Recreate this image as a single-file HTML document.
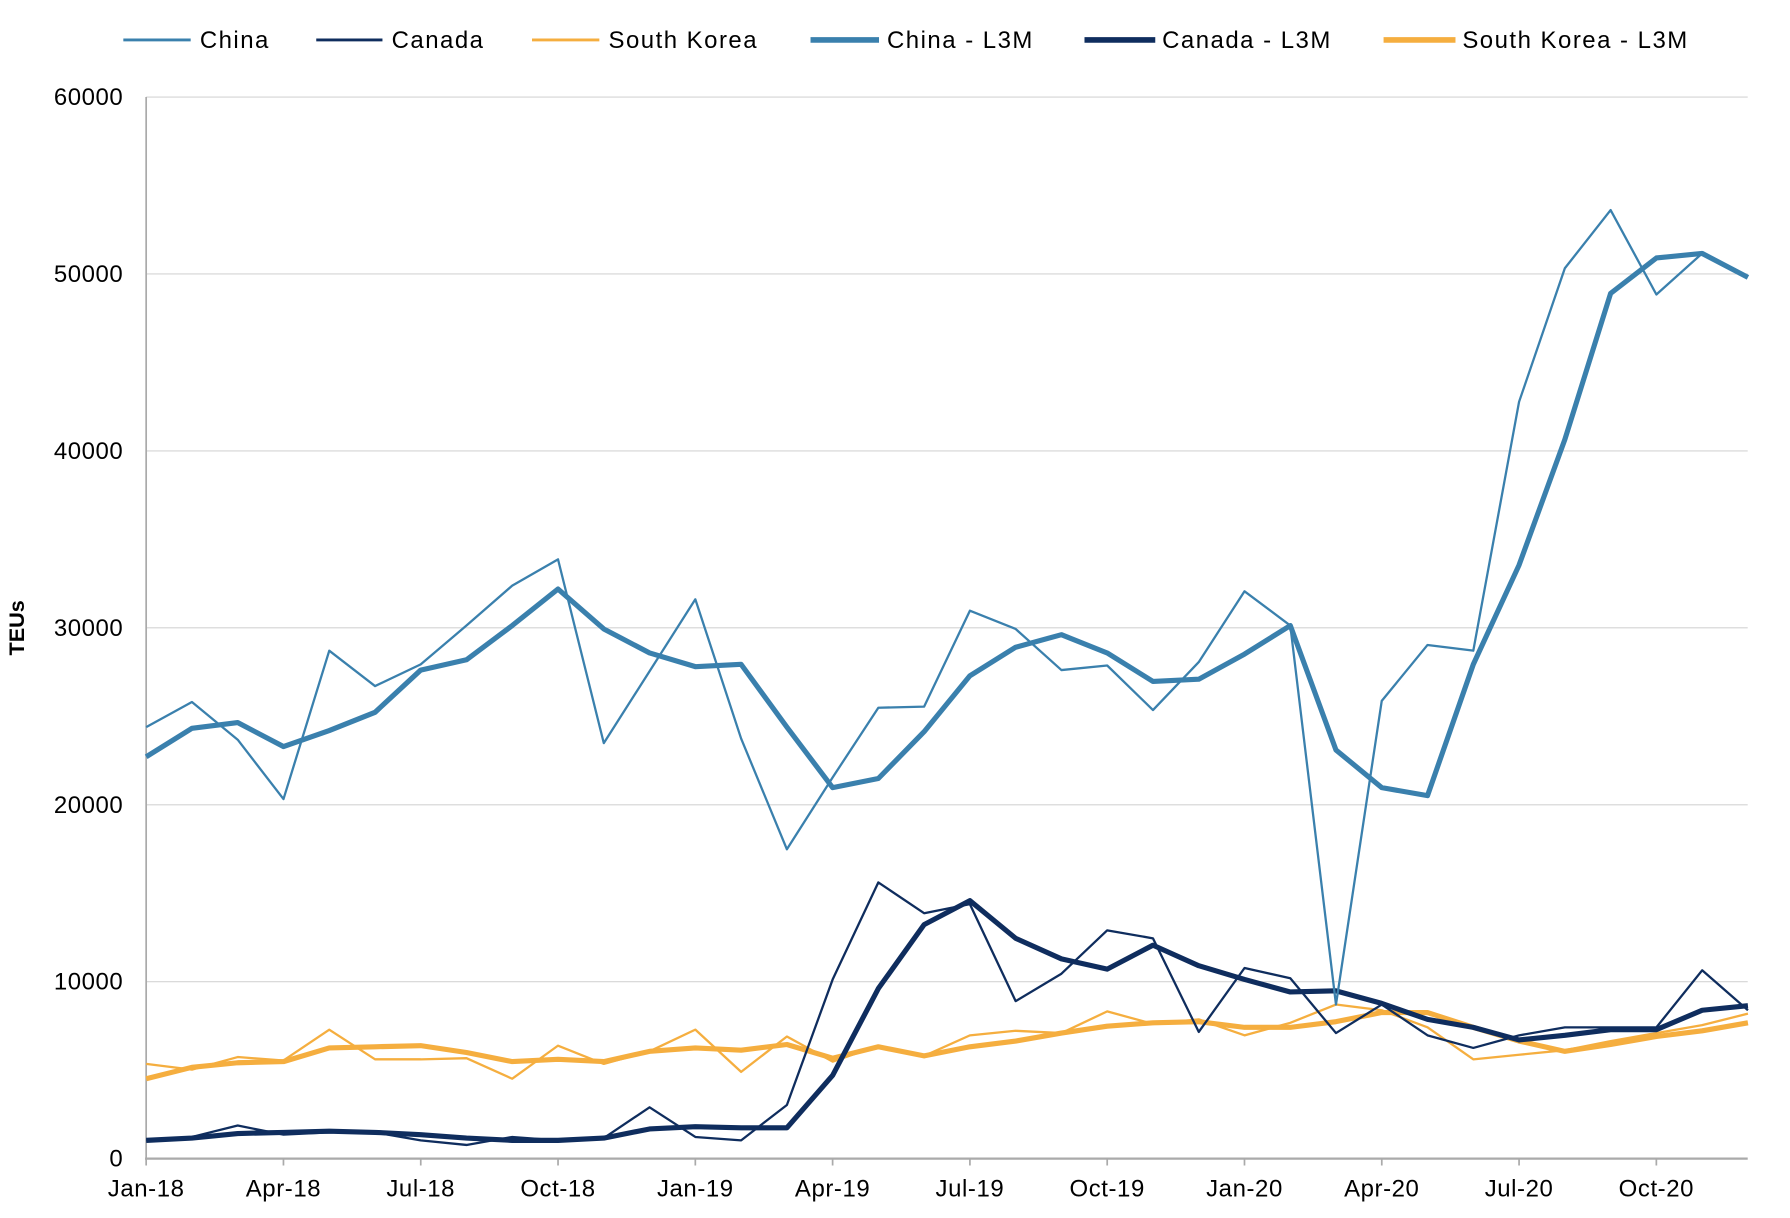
<!DOCTYPE html>
<html><head><meta charset="utf-8"><style>
html,body{margin:0;padding:0;background:#fff}
svg{display:block}
text{font-family:"Liberation Sans",sans-serif;fill:#000}
</style></head><body>
<svg id="s" width="1790" height="1218" viewBox="0 0 1568 1067" xmlns="http://www.w3.org/2000/svg">
<g id="grid" stroke="#d4d4d4" stroke-width="1"></g>
<g id="yl" font-size="21" text-anchor="end" letter-spacing="0.5"></g>
<g id="xl" font-size="21" text-anchor="middle" letter-spacing="0.5"></g>
<text transform="translate(21,550) rotate(-90)" font-size="19" font-weight="bold" text-anchor="middle">TEUs</text>
<line x1="128" y1="85" x2="128" y2="1016" stroke="#aaa" stroke-width="1.5"/>
<line x1="127" y1="1015" x2="1531" y2="1015" stroke="#aaa" stroke-width="2"/>
<g id="ticks" stroke="#aaa" stroke-width="1.5"></g>
<g id="series" fill="none" stroke-linejoin="round"></g>
<g font-size="21" letter-spacing="1.3">
<line x1="108" y1="35" x2="167" y2="35" stroke="#3a80ad" stroke-width="2.5"/><text x="175" y="42">China</text>
<line x1="277" y1="35" x2="335" y2="35" stroke="#0f2d5e" stroke-width="2.5"/><text x="343" y="42">Canada</text>
<line x1="466" y1="35" x2="525" y2="35" stroke="#f5ae3f" stroke-width="2.5"/><text x="533" y="42">South Korea</text>
<line x1="710" y1="35" x2="770" y2="35" stroke="#3a80ad" stroke-width="5"/><text x="777" y="42">China - L3M</text>
<line x1="950" y1="35" x2="1012" y2="35" stroke="#0f2d5e" stroke-width="5"/><text x="1018" y="42">Canada - L3M</text>
<line x1="1212" y1="35" x2="1275" y2="35" stroke="#f5ae3f" stroke-width="5"/><text x="1281" y="42">South Korea - L3M</text>
</g>
</svg>
<script>
var NS="http://www.w3.org/2000/svg";
function el(p,t,a){var e=document.createElementNS(NS,t);for(var k in a)e.setAttribute(k,a[k]);document.getElementById(p).appendChild(e);return e;}
for(var i=0;i<=6;i++){var y=1015-i*155;if(i>0)el("grid","line",{x1:128,x2:1531,y1:y,y2:y});el("yl","text",{x:108,y:y+7}).textContent=(i*10000)+"";}
var labs=["Jan-18","Apr-18","Jul-18","Oct-18","Jan-19","Apr-19","Jul-19","Oct-19","Jan-20","Apr-20","Jul-20","Oct-20"];
function X(i){return 128+i*40.09;}
for(var j=0;j<12;j++){var x=X(j*3);el("ticks","line",{x1:x,x2:x,y1:1015,y2:1021});el("xl","text",{x:x,y:1048}).textContent=labs[j];}
var S=[
["#f5ae3f",2,[932,937,926,929,902,928,928,927,945,916,932,921,902,939,908,930,916,925,907,903,905,886,897,893,907,896,880,885,900,928,924,920,912,905,898,888]],
["#f5ae3f",4.5,[945,935,931,930,918,917,916,922,930,928,930,921,918,920,915,927,917,925,917,912,905,899,896,895,900,900,895,887,887,900,912,921,915,908,903,896]],
["#0f2d5e",2,[999,996,986,994,992,992,999,1003,996,999,997,970,996,999,968,858,773,800,792,877,853,815,822,904,848,857,905,880,907,918,907,900,900,900,850,885]],
["#0f2d5e",4.5,[999,997,993,992,991,992,994,997,999,999,997,989,987,988,988,942,866,810,789,822,840,849,828,846,858,869,868,879,893,900,911,907,902,902,885,881]],
["#3a80ad",2,[637,615,648,700,570,601,582,548,513,490,651,588,525,647,744,681,620,619,535,551,587,583,622,580,518,548,880,614,565,570,352,235,184,258,222,242]],
["#3a80ad",4.5,[663,638,633,654,640,624,587,578,548,516,551,572,584,582,637,690,682,641,592,567,556,572,597,595,573,548,657,690,697,582,495,385,257,226,222,243]]
];
S.forEach(function(s){var p=s[2].map(function(v,i){return X(i).toFixed(1)+","+v;}).join(" ");el("series","polyline",{points:p,stroke:s[0],"stroke-width":s[1]});});
</script>
</body></html>
